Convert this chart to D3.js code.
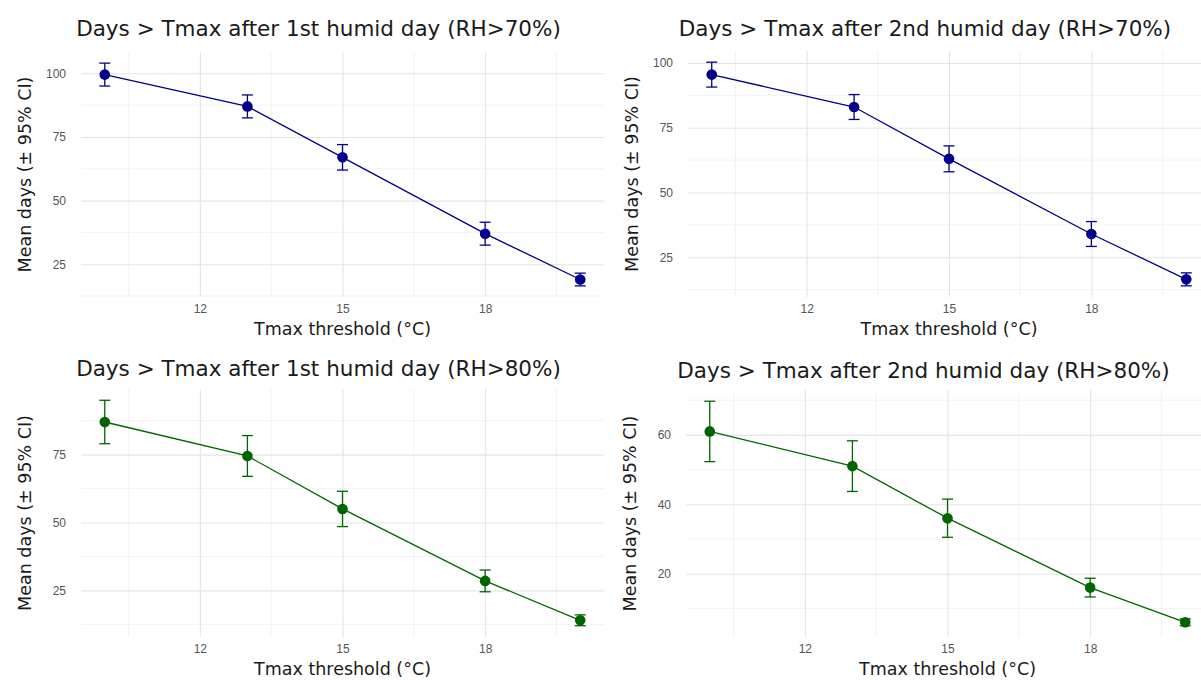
<!DOCTYPE html>
<html>
<head>
<meta charset="utf-8">
<script src="https://cdn.jsdelivr.net/npm/d3@7"></script>
<style>
  body { margin: 0; background: #fff; }
  svg { display: block; font-family: "DejaVu Sans", sans-serif; }
  .tick text { fill: #555; font-size: 12px; }
  .plot-title { fill: #1a1a1a; font-size: 21.5px; }
  .axis-title { fill: #1a1a1a; font-size: 17.5px; }
</style>
</head>
<body>
<div id="chart"></div>
<script>
// Tmax thresholds (°C) shared by all panels
var thresholds = [10, 13, 15, 18, 20];
var xTicks = [12, 15, 18];

// mean days and 95% CI half-width per panel
var rh70First = [99.5, 87, 67, 37, 19];
var rh70FirstCi = [4.5, 4.5, 5, 4.5, 2.5];
var rh70Second = [95.5, 83, 63, 34, 16.5];
var rh70SecondCi = [4.8, 4.8, 5, 4.8, 2.5];
var rh80First = [87, 74.5, 55, 28.5, 14];
var rh80FirstCi = [8, 7.5, 6.5, 4, 2];
var rh80Second = [61, 51, 36, 16, 6];
var rh80SecondCi = [8.7, 7.3, 5.5, 2.7, 1];

var titles = [
    "Days > Tmax after 1st humid day (RH>70%)",
    "Days > Tmax after 2nd humid day (RH>70%)",
    "Days > Tmax after 1st humid day (RH>80%)",
    "Days > Tmax after 2nd humid day (RH>80%)"
];
var yTicks = [[25, 50, 75, 100], [25, 50, 75, 100], [25, 50, 75], [20, 40, 60]];

var W = 1201, H = 680;
var svg = d3.select("#chart").append("svg").attr("width", W).attr("height", H);

var panels = [
    { mean: rh70First, ci: rh70FirstCi, color: "#00008B", box: { x0: 81, x1: 604, y0: 52, y1: 297 }, titleY: 36 },
    { mean: rh70Second, ci: rh70SecondCi, color: "#00008B", box: { x0: 688, x1: 1210, y0: 51, y1: 297 }, titleY: 36 },
    { mean: rh80First, ci: rh80FirstCi, color: "#006400", box: { x0: 81, x1: 604, y0: 389, y1: 637 }, titleY: 376 },
    { mean: rh80Second, ci: rh80SecondCi, color: "#006400", box: { x0: 686, x1: 1209, y0: 390, y1: 637 }, titleY: 378 }
];

panels.forEach(function (p, k) {
    var b = p.box;
    var rows = thresholds.map(function (t, i) {
        return { x: t, y: p.mean[i], lo: p.mean[i] - p.ci[i], hi: p.mean[i] + p.ci[i] };
    });

    // ggplot-style 5% expansion
    var xd = d3.extent(thresholds), xp = (xd[1] - xd[0]) * 0.05;
    var lo = d3.min(rows, function (d) { return d.lo; }), hi = d3.max(rows, function (d) { return d.hi; });
    var yp = (hi - lo) * 0.05;

    var x = d3.scaleLinear().domain([xd[0] - xp, xd[1] + xp]).range([b.x0, b.x1]);
    var y = d3.scaleLinear().domain([lo - yp, hi + yp]).range([b.y1, b.y0]);

    var g = svg.append("g");

    // minor grid
    var ys = yTicks[k][1] - yTicks[k][0];
    var yMinor = yTicks[k].map(function (t) { return t - ys / 2; }).concat([yTicks[k][yTicks[k].length - 1] + ys / 2])
        .filter(function (v) { return v >= y.domain()[0] && v <= y.domain()[1]; });
    var xs = xTicks[1] - xTicks[0];
    var xMinor = xTicks.map(function (t) { return t - xs / 2; }).concat([xTicks[xTicks.length - 1] + xs / 2])
        .filter(function (v) { return v >= x.domain()[0] && v <= x.domain()[1]; });

    g.selectAll(".ymin").data(yMinor).enter().append("line")
        .attr("x1", b.x0).attr("x2", b.x1)
        .attr("y1", function (d) { return y(d); }).attr("y2", function (d) { return y(d); })
        .style("stroke", "#f0f0f0").style("stroke-width", 0.8);
    g.selectAll(".xmin").data(xMinor).enter().append("line")
        .attr("y1", b.y0).attr("y2", b.y1)
        .attr("x1", function (d) { return x(d); }).attr("x2", function (d) { return x(d); })
        .style("stroke", "#f0f0f0").style("stroke-width", 0.8);

    // major grid + labels through d3 axes
    var yAxis = g.append("g").attr("transform", "translate(" + b.x0 + ",0)")
        .call(d3.axisLeft(y).tickValues(yTicks[k]).tickSize(-(b.x1 - b.x0)).tickPadding(15));
    var xAxis = g.append("g").attr("transform", "translate(0," + b.y1 + ")")
        .call(d3.axisBottom(x).tickValues(xTicks).tickSize(-(b.y1 - b.y0)).tickPadding(7));
    [yAxis, xAxis].forEach(function (a) {
        a.select(".domain").remove();
        a.selectAll(".tick line").style("stroke", "#e4e4e4").style("stroke-width", 1.1);
        a.selectAll(".tick text").attr("font-family", null).attr("font-size", null);
    });

    // line
    var line = d3.line().x(function (d) { return x(d.x); }).y(function (d) { return y(d.y); });
    g.append("path").datum(rows)
        .attr("d", line)
        .style("fill", "none")
        .style("stroke", p.color)
        .style("stroke-width", 1.3);

    // error bars
    var eb = g.selectAll(".eb").data(rows).enter().append("g").style("stroke", p.color).style("stroke-width", 1.3);
    eb.append("line")
        .attr("x1", function (d) { return x(d.x); }).attr("x2", function (d) { return x(d.x); })
        .attr("y1", function (d) { return y(d.lo); }).attr("y2", function (d) { return y(d.hi); });
    eb.append("line")
        .attr("x1", function (d) { return x(d.x) - 5.5; }).attr("x2", function (d) { return x(d.x) + 5.5; })
        .attr("y1", function (d) { return y(d.lo); }).attr("y2", function (d) { return y(d.lo); });
    eb.append("line")
        .attr("x1", function (d) { return x(d.x) - 5.5; }).attr("x2", function (d) { return x(d.x) + 5.5; })
        .attr("y1", function (d) { return y(d.hi); }).attr("y2", function (d) { return y(d.hi); });

    // points
    g.selectAll(".pt").data(rows).enter().append("circle")
        .attr("cx", function (d) { return x(d.x); })
        .attr("cy", function (d) { return y(d.y); })
        .attr("r", 5.3)
        .style("fill", p.color);

    // titles
    var cx = (b.x0 + b.x1) / 2;
    g.append("text").attr("class", "plot-title")
        .attr("x", cx - 24).attr("y", p.titleY)
        .attr("text-anchor", "middle")
        .text(titles[k]);
    g.append("text").attr("class", "axis-title")
        .attr("x", cx).attr("y", b.y1 + 38)
        .attr("text-anchor", "middle")
        .text("Tmax threshold (°C)");
    g.append("text").attr("class", "axis-title")
        .attr("transform", "translate(" + (b.x0 - 50) + "," + ((b.y0 + b.y1) / 2) + ") rotate(-90)")
        .attr("text-anchor", "middle")
        .text("Mean days (± 95% CI)");
});
</script>
</body>
</html>
